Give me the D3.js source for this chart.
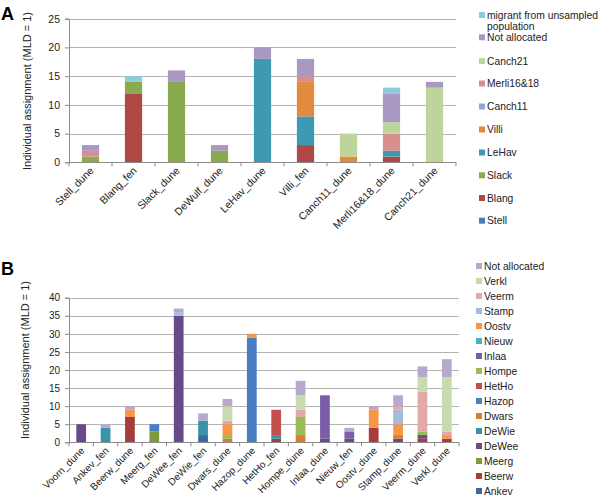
<!DOCTYPE html>
<html><head><meta charset="utf-8">
<script src="https://cdn.jsdelivr.net/npm/d3@7"></script>
<style>
body{margin:0;background:#fff;}
svg{font-family:"Liberation Sans",Arial,Helvetica,sans-serif;}
</style></head><body>
<svg id="c" width="600" height="500"></svg>
<script>
// ---------- Panel A data ----------
const catsA = ["Stell_dune","Blang_fen","Slack_dune","DeWulf_dune","LeHav_dune","Villi_fen","Canch11_dune","Merli16&18_dune","Canch21_dune"];
const seriesA = ["Stell","Blang","Slack","LeHav","Villi","Canch11","Merli16&18","Canch21","Not allocated","migrant from unsampled population"];
const colorsA = ["#4a7ebb","#b04846","#8aaa4f","#3e9ab3","#e38a3c","#8ea8d3","#d68f8e","#bdd49a","#a997c4","#8fcadb"];
const A_Stell    = [0,0,0,0,0,0,0,0,0];
const A_Blang    = [0,12,0,0,0,3,0,1,0];
const A_Slack    = [1,2,14,2,0,0,0,0,0];
const A_LeHav    = [0,0,0,0,18,5,0,1,0];
const A_Villi    = [0,0,0,0,0,6,1,0,0];
const A_Canch11  = [0,0,0,0,0,0,0,0,0];
const A_Merli    = [1,0,0,0,0,1,0,3,0];
const A_Canch21  = [0,0,0,0,0,0,4,2,13];
const A_NotAlloc = [1,0,2,1,2,3,0,5,1];
const A_Migrant  = [0,1,0,0,0,0,0,1,0];
const ticksA = [0,5,10,15,20,25];

// ---------- Panel B data ----------
const catsB = ["Voorn_dune","Ankev_fen","Beerw_dune","Meerg_fen","DeWee_fen","DeWie_fen","Dwars_dune","Hazop_dune","HetHo_fen","Hompe_dune","Inlaa_dune","Nieuw_fen","Oostv_dune","Stamp_dune","Veerm_dune","Verkl_dune"];
const seriesB = ["Ankev","Beerw","Meerg","DeWee","DeWie","Dwars","Hazop","HetHo","Hompe","Inlaa","Nieuw","Oostv","Stamp","Veerm","Verkl","Not allocated"];
const colorsB = ["#3f67a0","#a63d3c","#7e9a3e","#674b88","#3a93a8","#d77c34","#4a7ec2","#c44e4c","#9abb55","#7c5ea8","#4badc8","#f79646","#a7badb","#e2a9a8","#c8dbae","#b7a9ce"];
const B_Ankev    = [0,0,0,0,0,2,0,0,0,0,0,0,0,0,0,0];
const B_Beerw    = [0,0,7,0,0,0,0,0,1,0,0,0,4,0,1,1];
const B_Meerg    = [0,0,0,3,0,0,0,0,0,0,0,0,0,0,0,0];
const B_DeWee    = [5,0,0,0,35,0,0,0,0,0,1,1,0,1,1,0];
const B_DeWie    = [0,4,0,0,0,4,0,0,1,0,0,0,0,0,0,0];
const B_Dwars    = [0,0,0,0,0,0,1,0,0,2,0,0,0,1,0,0];
const B_Hazop    = [0,0,0,2,0,0,0,29,0,0,0,0,0,0,0,0];
const B_HetHo    = [0,0,0,0,0,0,0,0,7,0,0,0,0,0,0,0];
const B_Hompe    = [0,0,0,0,0,0,1,0,0,5,0,0,0,0,1,0];
const B_Inlaa    = [0,0,0,0,0,0,0,0,0,0,12,2,0,0,0,0];
const B_Nieuw    = [0,0,0,0,0,0,0,0,0,0,0,0,0,0,0,0];
const B_Oostv    = [0,0,2,0,0,0,3,1,0,0,0,0,5,3,0,1];
const B_Stamp    = [0,0,0,0,1,0,0,0,0,0,0,0,0,4,0,0];
const B_Veerm    = [0,0,0,0,0,0,1,0,0,2,0,0,0,1,11,1];
const B_Verkl    = [0,0,0,0,0,0,4,0,0,4,0,0,0,0,4,15];
const B_NotAlloc = [0,1,1,0,1,2,2,0,0,4,0,1,1,3,3,5];
const ticksB = [0,5,10,15,20,25,30,35,40];

const valsA = [A_Stell,A_Blang,A_Slack,A_LeHav,A_Villi,A_Canch11,A_Merli,A_Canch21,A_NotAlloc,A_Migrant];
const valsB = [B_Ankev,B_Beerw,B_Meerg,B_DeWee,B_DeWie,B_Dwars,B_Hazop,B_HetHo,B_Hompe,B_Inlaa,B_Nieuw,B_Oostv,B_Stamp,B_Veerm,B_Verkl,B_NotAlloc];

const svg = d3.select("#c");

function panel(cfg){
  const {cats, series, vals, colors, ticks, x0, x1, y0, y1, letter, letterY, titleCx, titleCy, legX, legItems} = cfg;
  const rows = cats.map((c,i)=>{const o={cat:c}; series.forEach((s,j)=>o[s]=vals[j][i]); return o;});
  const stack = d3.stack().keys(series)(rows);
  const x = d3.scaleBand().domain(cats).range([x0,x1]).padding(0);
  const y = d3.scaleLinear().domain([ticks[0], ticks[ticks.length-1]]).range([y0,y1]);
  const g = svg.append("g");
  // grid
  g.selectAll("line.grid").data(ticks.slice(1)).join("line")
    .attr("x1",x0).attr("x2",x1).attr("y1",d=>Math.round(y(d))+0.5).attr("y2",d=>Math.round(y(d))+0.5)
    .attr("stroke","#b4b4b4").attr("stroke-width",1.2);
  // bars
  const bw = x.step()*0.4;
  g.selectAll("g.s").data(stack).join("g").attr("fill",(d,i)=>colors[i])
    .selectAll("rect").data(d=>d.filter(p=>p[1]-p[0]>0)).join("rect")
    .attr("x",d=>x(d.data.cat)+x.step()/2-bw/2).attr("width",bw)
    .attr("y",d=>y(d[1])).attr("height",d=>y(d[0])-y(d[1]));
  // y axis
  const ya = d3.axisLeft(y).tickValues(ticks).tickSize(4).tickPadding(5);
  const yg = g.append("g").attr("transform",`translate(${x0},0)`).call(ya);
  yg.select(".domain").attr("stroke","#8c8c8c");
  yg.selectAll(".tick line").attr("stroke","#8c8c8c");
  yg.selectAll("text").attr("font-size",cfg.tickFont).attr("fill","#222").attr("font-family",null);
  // x axis baseline
  g.append("line").attr("x1",x0).attr("x2",x1).attr("y1",Math.round(y0)+0.5).attr("y2",Math.round(y0)+0.5).attr("stroke","#8c8c8c");
  const bounds = cats.map(c=>x(c)).concat([x1]);
  g.selectAll("line.xt").data(bounds).join("line")
    .attr("x1",d=>d).attr("x2",d=>d).attr("y1",y0).attr("y2",y0+4).attr("stroke","#8c8c8c");
  g.selectAll("text.xl").data(cats).join("text")
    .attr("transform",d=>`translate(${x(d)+x.step()/2+4},${y0+9}) rotate(-45)`)
    .attr("text-anchor","end").attr("font-size",cfg.xFont).attr("fill","#222").text(d=>d);
  // letter
  svg.append("text").attr("x",1).attr("y",letterY).attr("font-size",18).attr("font-weight","bold").text(letter);
  // y title
  svg.append("text").attr("transform",`translate(${titleCx},${titleCy}) rotate(-90)`)
    .attr("text-anchor","middle").attr("dy","0.35em").attr("font-size",11).attr("fill","#222").text("Individual assignment (MLD = 1)");
  // legend
  const lg = svg.append("g");
  legItems.forEach(it=>{
    const i = series.indexOf(it.key);
    lg.append("rect").attr("x",legX).attr("y",it.y-3).attr("width",6).attr("height",6).attr("fill",colors[i]);
    const t = lg.append("text").attr("x",legX+8).attr("y",it.y).attr("font-size",cfg.legFont).attr("fill","#222");
    const lines = it.lines || [it.key];
    lines.forEach((ln,k)=>t.append("tspan").attr("x",legX+8).attr("dy",k===0?"0.35em":"1.1em").text(ln));
  });
}

const orderA = seriesA.slice().reverse();
const legAy = [15,37.3,61,83.5,106.5,129.5,152.5,175.3,198,220.7];
const legA = orderA.map((k,i)=>({key:k,y:legAy[i],lines: k.startsWith("migrant")?["migrant from unsampled","population"]:null}));

panel({cats:catsA, series:seriesA, vals:valsA, colors:colorsA, ticks:ticksA,
  x0:69, x1:456, y0:162.3, y1:18.7, letter:"A", letterY:20, titleCx:27, titleCy:91,
  legX:479, legFont:10.3, tickFont:10.5, xFont:10.5, legItems:legA});

const legB = seriesB.slice().reverse().map((k,i)=>({key:k,y:266+i*15}));
panel({cats:catsB, series:seriesB, vals:valsB, colors:colorsB, ticks:ticksB,
  x0:69, x1:459, y0:442.3, y1:297.7, letter:"B", letterY:275, titleCx:25, titleCy:360,
  legX:476, legFont:10.3, tickFont:10, xFont:10, legItems:legB});
</script></body></html>
